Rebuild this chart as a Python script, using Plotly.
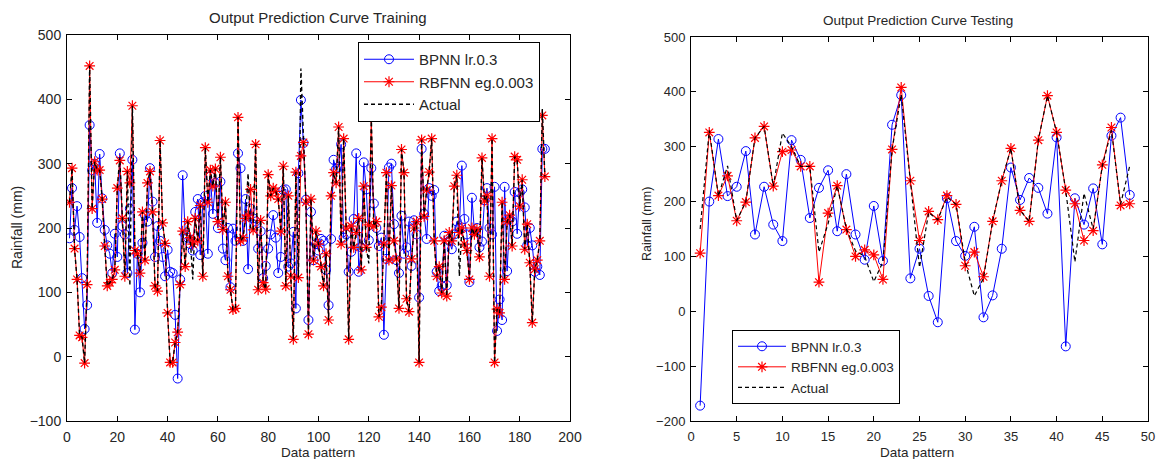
import plotly.graph_objects as go

# ---------------- Training data (1..190) ----------------
train_bpnn = [184, 262, 197, 234, 186, 122, 43, 80, 360, 290,
              300, 208, 315, 246, 197, 173, 160, 130, 191, 155,
              316, 203, 190, 130, 230, 306, 42, 160, 100, 177,
              220, 210, 293, 241, 155, 203, 180, 155, 125, 166,
              132, 130, 65, -34, 120, 282, 190, 185, 175, 165,
              225, 245, 158, 240, 250, 160, 280, 222, 270, 200,
              272, 168, 150, 200, 108, 199, 180, 316, 293, 180,
              245, 136, 230, 215, 210, 168, 195, 122, 141, 168,
              190, 220, 185, 130, 155, 259, 260, 140, 145, 194,
              75, 285, 399, 332, 244, 57, 225, 150, 175, 165,
              183, 180, 135, 80, 183, 306, 292, 295, 330, 185,
              190, 132, 163, 214, 316, 132, 170, 302, 260, 181,
              293, 238, 200, 172, 185, 34, 152, 294, 300, 206,
              150, 130, 219, 160, 170, 210, 141, 212, 190, 92,
              323, 222, 183, 262, 250, 259, 132, 102, 110, 188,
              111, 180, 167, 190, 210, 200, 297, 214, 190, 116,
              247, 195, 200, 170, 179, 243, 262, 200, 190, 264,
              40, 89, 57, 264, 133, 214, 210, 256, 191, 255,
              260, 232, 173, 200, 173, 132, 140, 127, 323, 323]

train_rbfnn = [240, 293, 168, 120, 33, 30, -10, 112, 452, 230,
               303, 290, 290, 245, 172, 110, 115, 120, 135, 262,
               305, 215, 125, 288, 270, 390, 165, 160, 130, 225,
               150, 270, 288, 225, 110, 102, 336, 208, 176, 68,
               -9, -9, 22, 38, 112, 195, 140, 210, 185, 175,
               215, 180, 235, 125, 325, 240, 290, 265, 292, 210,
               310, 198, 240, 125, 104, 73, 75, 372, 180, 185,
               215, 220, 260, 197, 330, 104, 212, 115, 105, 283,
               250, 262, 257, 245, 195, 296, 110, 250, 125, 27,
               287, 123, 312, 333, 240, 35, 245, 150, 195, 175,
               140, 110, 160, 57, 250, 286, 270, 357, 175, 339,
               200, 27, 203, 170, 193, 215, 135, 265, 170, 205,
               372, 203, 210, 62, 77, 175, 286, 150, 266, 180,
               152, 75, 322, 286, 90, 70, 152, 200, 210, -9,
               337, 218, 259, 287, 339, 180, 125, 140, 99, 180,
               94, 193, 180, 265, 282, 193, 200, 175, 165, 120,
               200, 190, 198, 155, 309, 242, 250, 125, 339, -9,
               74, 68, 240, 120, 210, 220, 172, 311, 306, 234,
               275, 167, 206, 146, 53, 136, 150, 180, 375, 280]

train_actual = [240, 293, 168, 120, 33, 30, -10, 112, 452, 230,
                303, 290, 290, 245, 172, 110, 115, 120, 135, 262,
                310, 215, 125, 288, 110, 390, 165, 160, 130, 225,
                150, 270, 288, 225, 110, 102, 336, 208, 176, 68,
                -9, -9, 22, 38, 112, 195, 140, 210, 185, 120,
                215, 180, 235, 125, 325, 240, 290, 265, 292, 210,
                310, 198, 240, 125, 104, 73, 75, 372, 180, 185,
                215, 285, 200, 197, 330, 104, 212, 115, 105, 283,
                250, 262, 257, 245, 195, 296, 110, 250, 125, 27,
                287, 123, 448, 333, 240, 35, 245, 150, 195, 175,
                140, 110, 160, 57, 250, 286, 270, 357, 175, 339,
                200, 27, 203, 170, 193, 215, 135, 265, 170, 145,
                372, 203, 210, 62, 77, 175, 286, 150, 266, 180,
                152, 75, 322, 286, 90, 70, 152, 200, 210, -9,
                337, 218, 259, 287, 339, 180, 125, 140, 99, 180,
                94, 193, 180, 265, 282, 125, 200, 175, 165, 120,
                200, 190, 198, 155, 309, 242, 250, 125, 339, -9,
                74, 68, 240, 120, 210, 220, 172, 311, 306, 234,
                275, 167, 206, 146, 53, 136, 150, 180, 385, 280]

train_x = list(range(1, len(train_rbfnn) + 1))

# ---------------- Testing data (1..48) ----------------
test_bpnn = [-172, 200, 314, 210, 227, 292, 140, 227, 158, 128,
             312, 276, 170, 225, 257, 146, 250, 140, 94, 192,
             92, 340, 394, 60, 114, 28, -20, 206, 128, 101,
             154, -11, 29, 114, 262, 203, 243, 225, 178, 317,
             -64, 206, 158, 224, 122, 320, 353, 212]

test_rbfnn = [106, 326, 211, 247, 165, 199, 316, 337, 228, 291,
              294, 264, 264, 53, 179, 229, 149, 100, 112, 103,
              58, 295, 408, 238, 129, 182, 167, 211, 195, 83,
              108, 63, 164, 238, 297, 184, 164, 312, 393, 326,
              221, 196, 129, 147, 267, 335, 193, 196]

test_actual = [150, 330, 210, 265, 165, 200, 316, 337, 228, 325,
               300, 264, 264, 108, 160, 229, 150, 110, 100, 54,
               90, 295, 395, 238, 80, 180, 167, 208, 195, 90,
               28, 60, 164, 238, 297, 184, 164, 312, 393, 326,
               220, 90, 215, 150, 265, 330, 195, 265]

test_x = list(range(1, len(test_rbfnn) + 1))

labels = ["BPNN lr.0.3", "RBFNN eg.0.003", "Actual"]

FONT = "Liberation Sans, Arial, sans-serif"
TXT = "#262626"
DASH = "4px,3px"
fig = go.Figure()

# Training traces
fig.add_trace(go.Scatter(x=train_x, y=train_bpnn, mode="lines+markers", name=labels[0],
                         line=dict(color="#0000ff", width=1),
                         marker=dict(symbol="circle-open", size=9, color="#0000ff", line=dict(width=1)),
                         xaxis="x", yaxis="y", legend="legend"))
fig.add_trace(go.Scatter(x=train_x, y=train_rbfnn, mode="lines+markers", name=labels[1],
                         line=dict(color="#ff0000", width=1),
                         marker=dict(symbol="asterisk-open", size=9, color="#ff0000", line=dict(width=1.2, color="#ff0000")),
                         xaxis="x", yaxis="y", legend="legend"))
fig.add_trace(go.Scatter(x=train_x, y=train_actual, mode="lines", name=labels[2],
                         line=dict(color="black", width=1.4, dash=DASH),
                         xaxis="x", yaxis="y", legend="legend"))

# Testing traces
fig.add_trace(go.Scatter(x=test_x, y=test_bpnn, mode="lines+markers", name=labels[0],
                         line=dict(color="#0000ff", width=1),
                         marker=dict(symbol="circle-open", size=9, color="#0000ff", line=dict(width=1)),
                         xaxis="x2", yaxis="y2", legend="legend2"))
fig.add_trace(go.Scatter(x=test_x, y=test_rbfnn, mode="lines+markers", name=labels[1],
                         line=dict(color="#ff0000", width=1),
                         marker=dict(symbol="asterisk-open", size=9, color="#ff0000", line=dict(width=1.2, color="#ff0000")),
                         xaxis="x2", yaxis="y2", legend="legend2"))
fig.add_trace(go.Scatter(x=test_x, y=test_actual, mode="lines", name=labels[2],
                         line=dict(color="black", width=1.2, dash=DASH),
                         xaxis="x2", yaxis="y2", legend="legend2"))

W, H = 1162, 459
def px(xp):
    return xp / W
def py(yp):
    return 1 - yp / H

def axis(size, **kw):
    d = dict(showgrid=False, zeroline=False, showline=True, linecolor="black", linewidth=1,
             mirror="ticks", ticks="inside", ticklen=5, tickcolor="black", automargin=False,
             tickfont=dict(family=FONT, size=size, color=TXT))
    d.update(kw)
    return d

fig.update_layout(
    width=W, height=H,
    margin=dict(l=0, r=0, t=0, b=0, pad=0, autoexpand=False),
    paper_bgcolor="white", plot_bgcolor="white",
    font=dict(family=FONT, size=12, color=TXT),
    xaxis=axis(14, domain=[px(67), px(570)], range=[0, 200], dtick=20, tick0=0, anchor="y", ticklabelstandoff=3),
    yaxis=axis(14, domain=[py(421), py(35)], range=[-100, 500], dtick=100, tick0=0, anchor="x", ticklabelstandoff=2),
    xaxis2=axis(13, domain=[px(691), px(1148)], range=[0, 50], dtick=5, tick0=0, anchor="y2", ticklabelstandoff=3),
    yaxis2=axis(13, domain=[py(421), py(37)], range=[-200, 500], dtick=100, tick0=0, anchor="x2", ticklabelstandoff=2),
    legend=dict(x=px(358), y=py(42), xanchor="left", yanchor="top", bgcolor="white",
                bordercolor="black", borderwidth=1, font=dict(family=FONT, size=15, color=TXT),
                tracegroupgap=0, itemwidth=50),
    legend2=dict(x=px(732), y=py(330), xanchor="left", yanchor="top", bgcolor="white",
                 bordercolor="black", borderwidth=1, font=dict(family=FONT, size=13.5, color=TXT),
                 tracegroupgap=0, itemwidth=48),
    showlegend=True,
)

def note(text, x, y, size=14, angle=0):
    return dict(text=text, x=px(x), y=py(y), xref="paper", yref="paper",
                xanchor="center", yanchor="middle", textangle=angle,
                showarrow=False, font=dict(size=size, family=FONT, color=TXT))

ann = [
    note("Output Prediction Curve Training", 318, 18, size=15),
    note("Output Prediction Curve Testing", 918, 20, size=13.5),
    note("Data pattern", 318, 452, size=13.5),
    note("Data pattern", 917, 452, size=13.5),
    note("Rainfall (mm)", 17, 228, size=14, angle=-90),
    note("Rainfall (mm)", 647, 224, size=12.5, angle=-90),
]
fig.update_layout(annotations=ann)

fig.write_html("out.html", config={"displayModeBar": False},
               post_script="document.body.style.margin='0px';document.body.style.overflow='hidden';")
